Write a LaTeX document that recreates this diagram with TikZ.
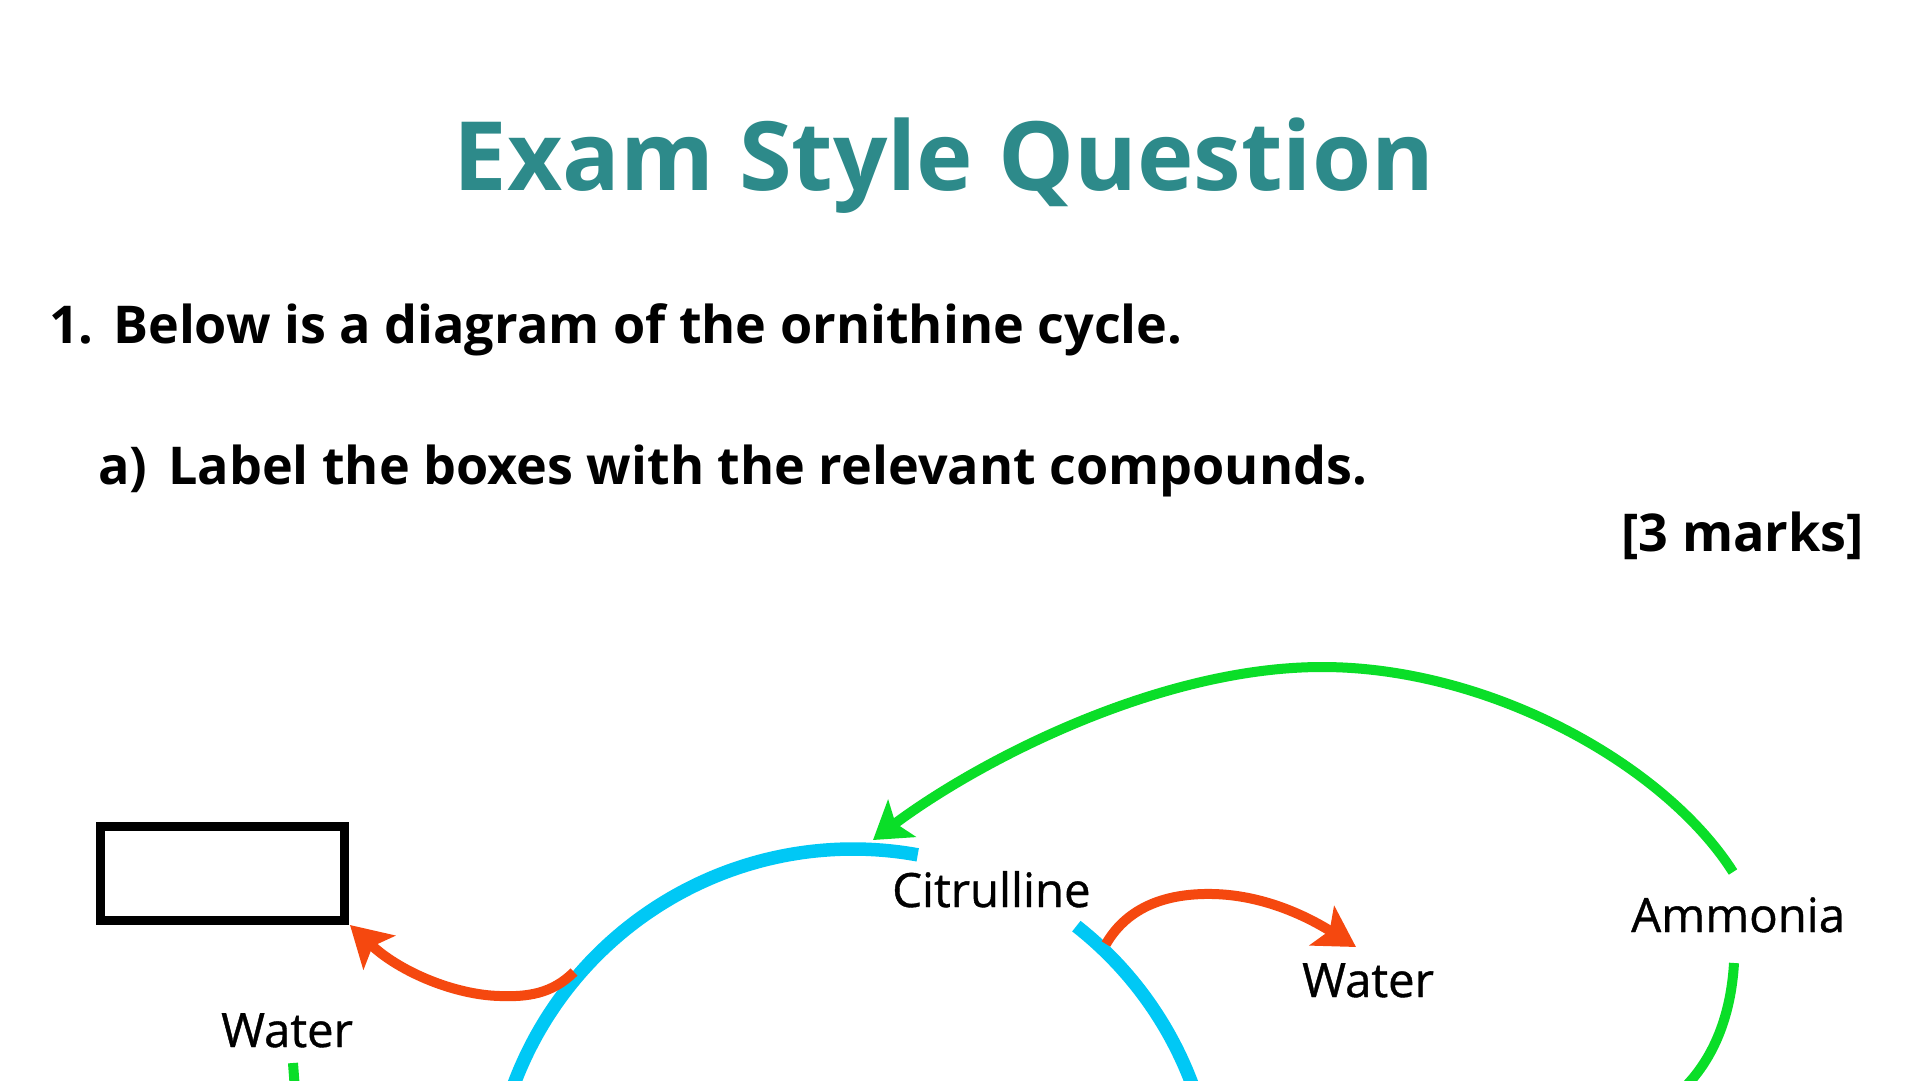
\documentclass[tikz,border=0pt]{standalone}
\usepackage{fontspec}
\setmainfont{Open Sans}
\newfontfamily\lblfont{Open Sans}[FakeBold=0.8]
\usetikzlibrary{arrows.meta}
\definecolor{tealT}{RGB}{45,138,138}
\definecolor{cycblue}{RGB}{0,200,245}
\definecolor{cycgreen}{RGB}{10,222,40}
\definecolor{cycred}{RGB}{245,72,15}
\tikzset{
  titletext/.style={font=\bfseries\fontsize{96}{116}\selectfont, text=tealT, inner sep=0pt, anchor=base},
  qtext/.style={font=\bfseries\fontsize{52.3}{62}\selectfont, inner sep=0pt, anchor=base west},
  lbl/.style={font=\lblfont\fontsize{47.5}{57}\selectfont, inner sep=0pt, anchor=base west},
  bluearc/.style={draw=cycblue, line width=13.5bp},
  greenarc/.style={draw=cycgreen, line width=10bp},
  redarr/.style={draw=cycred, line width=10bp, -{Stealth[length=40bp,width=46bp,inset=9bp]}},
  greenarr/.style={greenarc, -{Stealth[length=36bp,width=46bp,inset=8bp]}},
  answerbox/.style={draw=black, line width=9bp, minimum width=244bp, minimum height=94bp, inner sep=0pt}
}
\begin{document}
\begin{tikzpicture}[x=1bp,y=-1bp]
\useasboundingbox (0,0) rectangle (1920,1080);
\fill[white] (0,0) rectangle (1920,1080);

% texts
\node[titletext] (title) at (944,190) {Exam Style Question};
\node[qtext] (qnum) at (49,343) {1.};
\node[qtext] (qline) at (113,343) {Below is a diagram of the ornithine cycle.};
\node[qtext] (anum) at (98,484) {a)};
\node[qtext] (aline) at (168,484) {Label the boxes with the relevant compounds.};
\node[qtext, anchor=base east] (marks) at (1864,551) {[3 marks]};

% labels
\node[lbl] (citrulline) at (892,907) {Citrulline};
\node[lbl] (waterR) at (1302,997) {Water};
\node[lbl] (ammonia) at (1631,932) {Ammonia};
\node[lbl] (waterL) at (221,1047) {Water};

% box
\node[answerbox] (box) at (222.5,873.5) {};

% coordinates
\coordinate (r1s) at (574,972);
\coordinate (r1m) at (500,996);
\coordinate (r1e) at (350,925);
\coordinate (r2s) at (1106,944);
\coordinate (r2m) at (1213,894);
\coordinate (r2e) at (1356,947);
\coordinate (g1s) at (1733,872);
\coordinate (g1m) at (1322,667);
\coordinate (g1e) at (873,840);
\coordinate (g2s) at (1734,963);
\coordinate (g2e) at (1684,1088);
\coordinate (g3s) at (293,1063);
\coordinate (g3e) at (295,1090);

\begin{scope}
\clip (0,0) rectangle (1920,1080);
% blue cycle arcs
\draw[bluearc] plot[domain=-79.7:-170, samples=120, smooth] ({853+362*cos(\x)},{1211+362*sin(\x)});
\draw[bluearc] plot[domain=-51.9:-12, samples=80, smooth] ({853+362*cos(\x)},{1211+362*sin(\x)});
% green lower pieces
\draw[greenarc] (g2s) .. controls (1731,1015) and (1714,1058) .. (g2e);
\draw[greenarc] (g3s) -- (g3e);
\end{scope}

% green arrow (ammonia to citrulline)
\draw[greenarr] (g1s) .. controls (1665,765) and (1490,667) .. (g1m)
   .. controls (1160,667) and (980,760) .. (g1e);

% red arrows
\draw[redarr] (r1s) .. controls (552,994) and (527,997) .. (r1m)
   .. controls (455,995) and (400,972) .. (r1e);
\draw[redarr] (r2s) .. controls (1128,906) and (1168,893) .. (r2m)
   .. controls (1258,895) and (1300,912) .. (r2e);
\end{tikzpicture}
\end{document}
